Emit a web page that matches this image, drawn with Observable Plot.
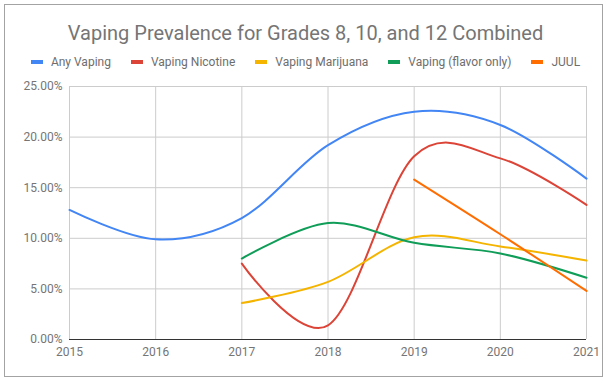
<!DOCTYPE html>
<html>
<head>
<meta charset="utf-8">
<script src="https://cdn.jsdelivr.net/npm/d3@7"></script>
<script src="https://cdn.jsdelivr.net/npm/@observablehq/plot@0.6"></script>
<style>
  html, body { margin: 0; padding: 0; background: #fff; }
  #wrap { position: relative; width: 611px; height: 383px; font-family: Roboto, sans-serif; overflow: hidden; }
  #frame { position: absolute; left: 4px; top: 4px; width: 597px; height: 371px; border: 1px solid #a3a3a3; box-sizing: content-box; pointer-events: none; }
  #header { position: relative; width: 611px; height: 70px; }
  #title { position: absolute; left: 0; width: 611px; top: 23px; text-align: center; font-size: 20px; line-height: 20px; color: #757575; white-space: nowrap; }
  #legend { position: absolute; left: 0; width: 611px; top: 56px; display: flex; justify-content: center; font-size: 12px; line-height: 12px; color: #6e6e6e; white-space: nowrap; }
  .item { display: flex; align-items: center; margin: 0 10px; }
  .sw { width: 12px; height: 4px; margin-right: 8px; }
  #chart svg { display: block; }
</style>
</head>
<body>
<div id="wrap">
  <div id="header">
    <div id="title">Vaping Prevalence for Grades 8, 10, and 12 Combined</div>
    <div id="legend"></div>
  </div>
  <div id="chart"></div>
  <div id="frame"></div>
</div>
<script>
const years = [2015, 2016, 2017, 2018, 2019, 2020, 2021];
const seriesNames = ["Any Vaping", "Vaping Nicotine", "Vaping Marijuana", "Vaping (flavor only)", "JUUL"];
const seriesColors = ["#4285f4", "#db4437", "#f4b400", "#0f9d58", "#ff6d01"];
// values in percent; null = no data
const anyVaping      = [12.8, 9.9, 12.0, 19.2, 22.5, 21.2, 15.9];
const vapingNicotine = [null, null, 7.5, 1.4, 18.1, 17.9, 13.3];
const vapingMarijuana= [null, null, 3.6, 5.7, 10.1, 9.2, 7.8];
const vapingFlavor   = [null, null, 8.0, 11.5, 9.55, 8.5, 6.1];
const juul           = [null, null, null, null, 15.8, 10.4, 4.8];
const yTicks = [0, 0.05, 0.10, 0.15, 0.20, 0.25];

const seriesValues = [anyVaping, vapingNicotine, vapingMarijuana, vapingFlavor, juul];
const rows = [];
seriesNames.forEach((name, i) => {
  years.forEach((yr, j) => {
    const v = seriesValues[i][j];
    if (v != null) rows.push({series: name, year: yr, value: v / 100});
  });
});

// legend
const legend = document.getElementById("legend");
seriesNames.forEach((name, i) => {
  const it = document.createElement("div");
  it.className = "item";
  const sw = document.createElement("div");
  sw.className = "sw";
  sw.style.background = seriesColors[i];
  const tx = document.createElement("span");
  tx.textContent = name;
  it.appendChild(sw); it.appendChild(tx);
  legend.appendChild(it);
});

const chart = Plot.plot({
  width: 611,
  height: 313,
  marginTop: 16,
  marginBottom: 44,
  marginLeft: 69,
  marginRight: 25,
  style: {fontFamily: "Roboto, sans-serif", fontSize: "12px", color: "#757575", background: "transparent"},
  x: {domain: [2015, 2021], ticks: years, tickFormat: d => String(d), tickSize: 0, tickPadding: 8, label: null},
  y: {domain: [0, 0.25], ticks: yTicks, tickFormat: d3.format(".2%"), tickSize: 0, tickPadding: 7, label: null},
  color: {domain: seriesNames, range: seriesColors},
  marks: [
    Plot.gridX(years, {stroke: "#cccccc", strokeOpacity: 1}),
    Plot.gridY(yTicks, {stroke: "#cccccc", strokeOpacity: 1}),
    Plot.ruleY([0], {stroke: "#333333", strokeWidth: 1}),
    Plot.line(rows, {x: "year", y: "value", z: "series", stroke: "series", strokeWidth: 2, curve: "cardinal"})
  ]
});
document.getElementById("chart").appendChild(chart);
</script>
</body>
</html>
